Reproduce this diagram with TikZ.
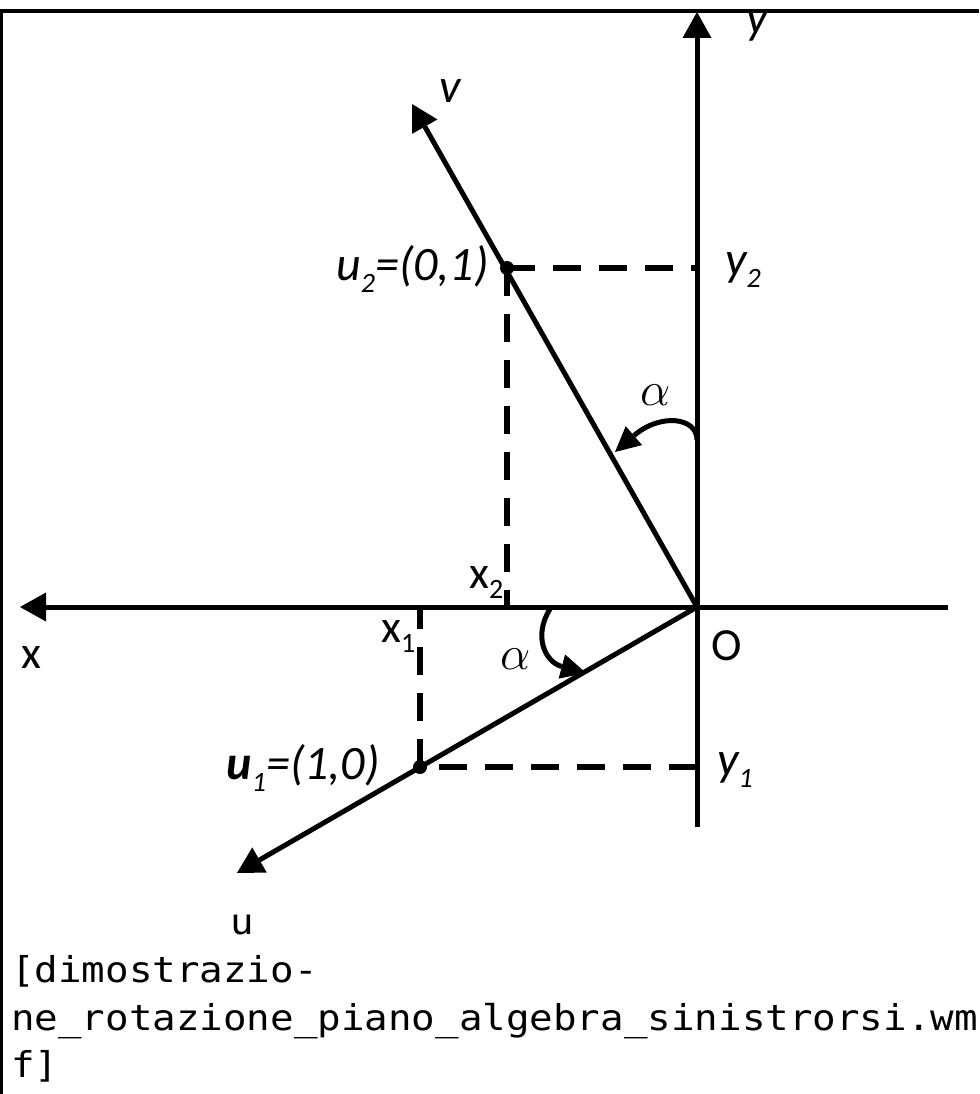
\documentclass[tikz,border=0pt]{standalone}
\usepackage{fix-cm}
\usepackage{fontspec}
\setmainfont{Carlito}
\newfontfamily\monofont[FakeStretch=1.1]{DejaVu Sans Mono}
\usetikzlibrary{arrows.meta}
\begin{document}
\begin{tikzpicture}[x=1pt,y=-1pt,
  frame/.style={line width=3.3pt},
  axisarrow/.style={line width=5pt, -{Triangle[length=26pt,width=29pt,line width=0pt]}},
  guide/.style={line width=5.5pt, dash pattern=on 28pt off 18pt},
  arcarrow/.style={line width=5pt, -{Triangle[length=25pt,width=25pt,line width=0pt]}},
  pt/.style={circle, fill, inner sep=0pt, minimum size=14pt},
  lbl/.style={inner sep=0pt, anchor=base, font=\fontsize{48}{48}\selectfont\itshape},
  ulbl/.style={inner sep=0pt, anchor=base, font=\fontsize{46}{46}\selectfont},
  glbl/.style={inner sep=0pt, font=\fontsize{48}{48}\selectfont},
  mono/.style={inner sep=0pt, anchor=base west, font=\fontsize{35.6}{35.6}\selectfont\monofont},
]
\useasboundingbox (0,0) rectangle (979,1094);
% frame
\coordinate (FTL) at (1.5,11);
\coordinate (FTR) at (979,11);
\coordinate (FBL) at (1.5,1094);
\draw[frame] (FTR) -- (FTL) -- (FBL);

% key points
\coordinate (O) at (697,607);
\coordinate (XL) at (20,607);
\coordinate (XR) at (948,607);
\coordinate (YT) at (697,12);
\coordinate (YB) at (697,827);
\coordinate (VT) at (412,104);
\coordinate (UT) at (237,873);
\node[pt] (U2) at (507,268) {};
\node[pt] (U1) at (420,767) {};

% dashed guides
\draw[guide] (U2.center) -- (U2.center -| O);
\draw[guide] (U2.center) -- (U2.center |- O);
\draw[guide] (U1.center -| O) -- (U1.center);
\draw[guide] (U1.center) -- (U1.center |- O);

% axes
\draw[axisarrow] (XR) -- (XL);
\draw[axisarrow] (YB) -- (YT);

% vectors
\draw[axisarrow] (O) -- (VT);
\draw[axisarrow] (O) -- (UT);

% angle arcs
\coordinate (A1s) at (697,440);
\coordinate (A1e) at (615,452);
\draw[arcarrow] (A1s) .. controls (697,417) and (660,413) .. (A1e);
\coordinate (A2s) at (550,609);
\coordinate (A2e) at (586,673);
\draw[arcarrow] (A2s) .. controls (533,636) and (545,662) .. (A2e);

% labels
\begin{scope}
\clip (0,12.8) rectangle (979,1094);
\node[lbl] (ylab) at (757,34) {y};
\end{scope}
\node[lbl] (vlab) at (450,103) {v};
\node[lbl, anchor=base west] (y2lab) at (725,275) {y\raisebox{-12pt}{\fontsize{28}{28}\selectfont 2}};
\node[lbl, anchor=base west] (y1lab) at (717,775) {y\raisebox{-12pt}{\fontsize{28}{28}\selectfont 1}};
\node[lbl, anchor=base east] (u2lab) at (489,280) {u\raisebox{-12pt}{\fontsize{28}{28}\selectfont 2}=(0,1)};
\node[lbl, anchor=base east] (u1lab) at (380,779) {\textbf{u}\raisebox{-12pt}{\fontsize{28}{28}\selectfont 1}=(1,0)};
\node[ulbl] (xlab) at (31,668) {x};
\node[ulbl, anchor=base west] (x1lab) at (381,642) {x\raisebox{-10pt}{\fontsize{28}{28}\selectfont 1}};
\node[ulbl, anchor=base west] (x2lab) at (469,588) {x\raisebox{-10pt}{\fontsize{28}{28}\selectfont 2}};
\node[ulbl] (olab) at (727,660) {O};
\node[glbl] (alpha1) at (656,395) {$\alpha$};
\node[glbl] (alpha2) at (516,659) {$\alpha$};

% caption text
\node[mono, anchor=base] (ulab) at (242,934) {u};
\node[mono] (t1) at (11,982) {[dimostrazio-};
\node[mono] (t2) at (11,1030) {ne\_rotazione\_piano\_algebra\_sinistrorsi.wm};
\node[mono] (t3) at (11,1077) {f]};
\end{tikzpicture}
\end{document}
